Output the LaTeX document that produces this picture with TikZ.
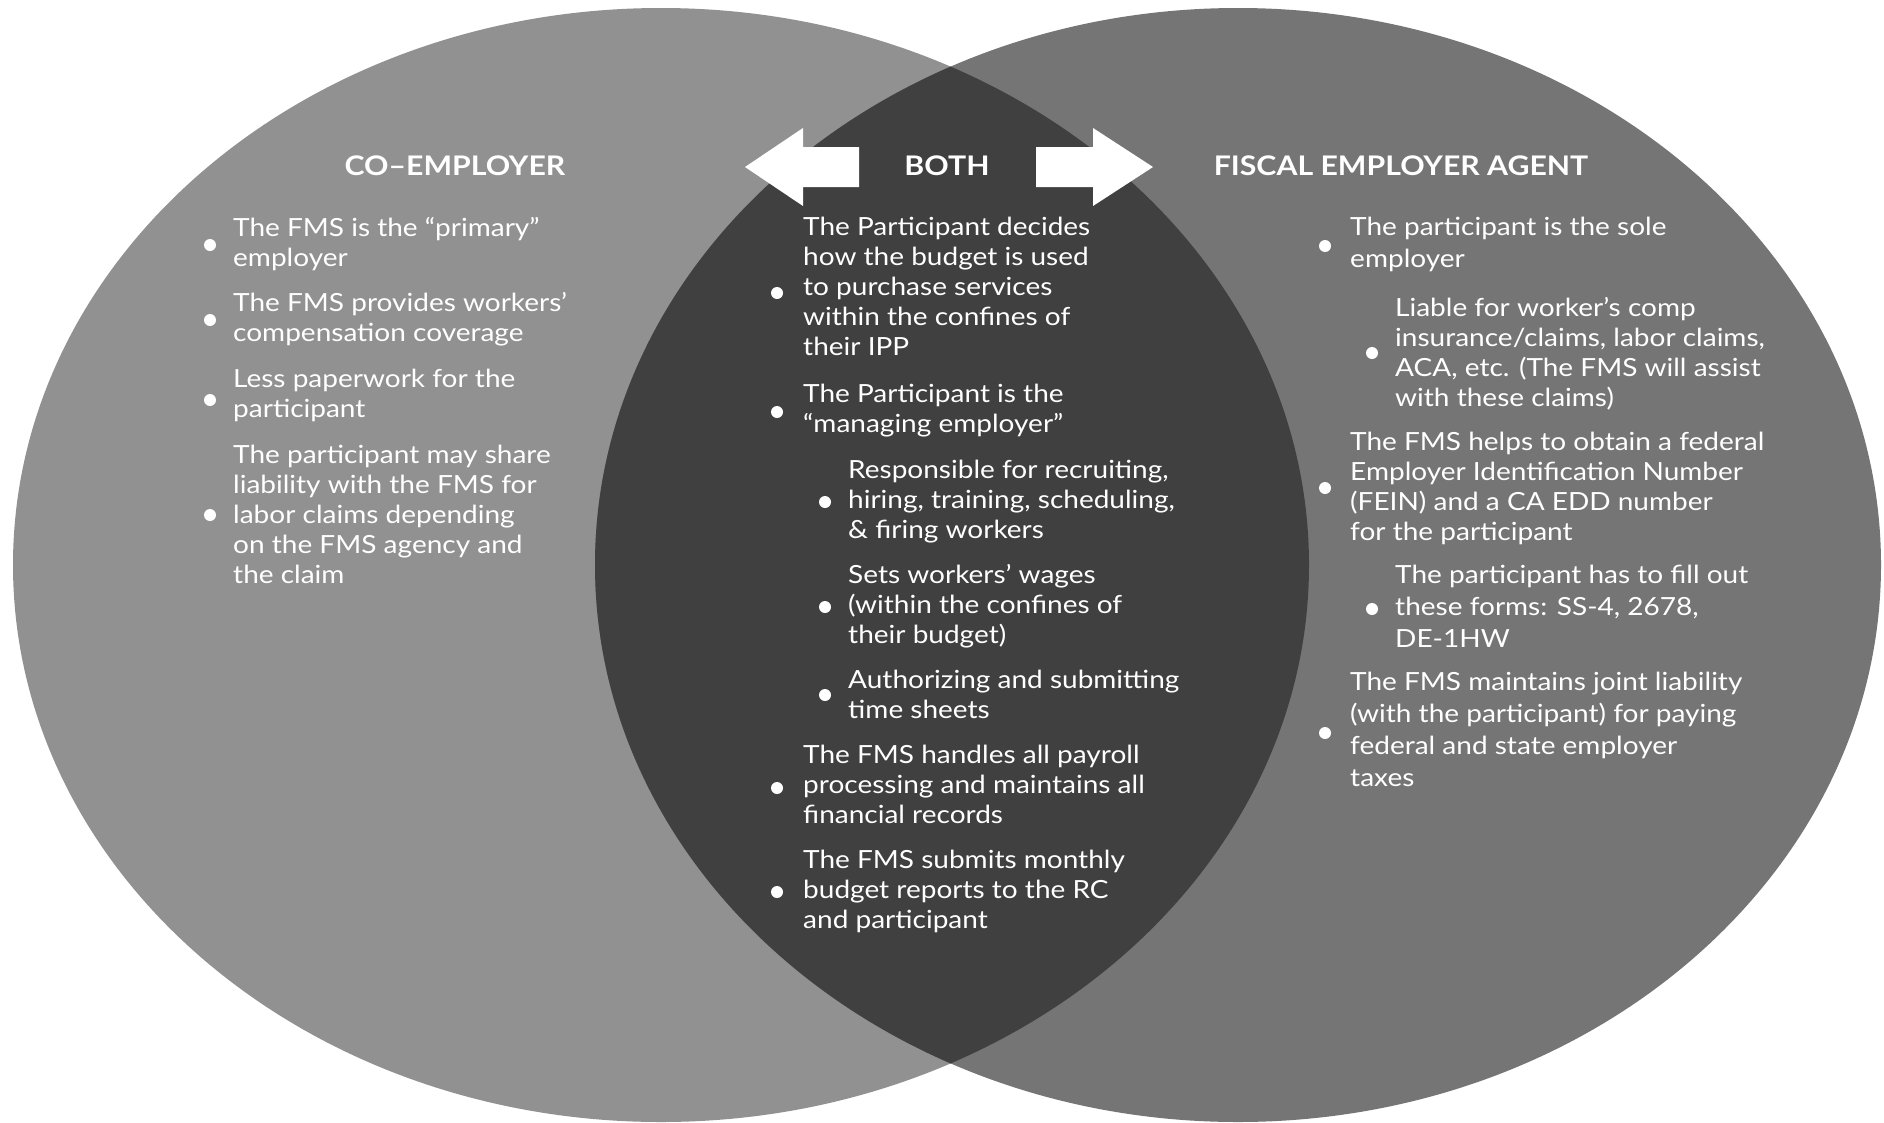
\documentclass[tikz,border=0pt]{standalone}
\usepackage{fontspec}
\setmainfont{Lato}[FakeStretch=1.12]
\definecolor{leftgray}{gray}{0.57}
\definecolor{rightgray}{gray}{0.46}
\definecolor{lensgray}{gray}{0.25}
\begin{document}
\begin{tikzpicture}[x=1pt,y=-1pt,
  txt/.style={anchor=north west, inner sep=0pt, align=left, text=white,
    font=\fontsize{25}{30}\selectfont, execute at begin node=\strut},
  txtw/.style={txt, font=\fontsize{25}{32}\selectfont},
  ttl/.style={anchor=center, inner sep=0pt, text=white,
    font=\bfseries\fontsize{27}{30}\selectfont},
  dot/.style={white}]
\useasboundingbox (0,0) rectangle (1884,1122);
\fill[white] (0,0) rectangle (1884,1122);
% circles
\fill[leftgray] (661,565) ellipse [x radius=648pt, y radius=557pt];
\fill[rightgray] (1238,565) ellipse [x radius=643pt, y radius=557pt];
\begin{scope}
  \clip (661,565) ellipse [x radius=648pt, y radius=557pt];
  \fill[lensgray] (1238,565) ellipse [x radius=643pt, y radius=557pt];
\end{scope}
% arrows
\fill[white] (745,167) -- (803,128) -- (803,147) -- (859,147) -- (859,187) -- (803,187) -- (803,206) -- cycle;
\fill[white] (1153,167) -- (1093,128) -- (1093,147) -- (1036,147) -- (1036,187) -- (1093,187) -- (1093,206) -- cycle;
% titles
\node[ttl] (tco) at (455,166) {CO–EMPLOYER};
\node[ttl] (tboth) at (947,166) {BOTH};
\node[ttl] (tfea) at (1401,166) {FISCAL EMPLOYER AGENT};
% left column
\node[txt] (l1) at (233,217) {The FMS is the “primary”\\employer};
\node[txt] (l2) at (233,292) {The FMS provides workers’\\compensation coverage};
\node[txt] (l3) at (233,369) {Less paperwork for the\\participant};
\node[txt] (l4) at (233,445) {The participant may share\\liability with the FMS for\\labor claims depending\\on the FMS agency and\\the claim};
\foreach \y in {245,320,400,515} \fill[dot] (210,\y) circle[radius=6pt];
% center column
\node[txt] (c1) at (803,217) {The Participant decides\\how the budget is used\\to purchase services\\within the confines of\\their IPP};
\node[txt] (c2) at (803,384) {The Participant is the\\“managing employer”};
\node[txt] (s1) at (848,460) {Responsible for recruiting,\\hiring, training, scheduling,\\\& firing workers};
\node[txt] (s2) at (848,564) {Sets workers’ wages\\(within the confines of\\their budget)};
\node[txt] (s3) at (848,670) {Authorizing and submitting\\time sheets};
\node[txt] (c3) at (803,745) {The FMS handles all payroll\\processing and maintains all\\financial records};
\node[txt] (c4) at (803,850) {The FMS submits monthly\\budget reports to the RC\\and participant};
\foreach \y in {293,412,788,892} \fill[dot] (777,\y) circle[radius=6pt];
\foreach \y in {502,607,695} \fill[dot] (825,\y) circle[radius=6pt];
% right column
\node[txtw] (r1) at (1350,217) {The participant is the sole\\employer};
\node[txt] (rs1) at (1395,297) {Liable for worker’s comp\\insurance/claims, labor claims,\\ACA, etc. (The FMS will assist\\with these claims)};
\node[txt] (r2) at (1350,432) {The FMS helps to obtain a federal\\Employer Identification Number\\(FEIN) and a CA EDD number\\for the participant};
\node[txtw] (rs2) at (1395,565) {The participant has to fill out\\these forms: SS-4, 2678,\\DE-1HW};
\node[txtw] (r3) at (1350,672) {The FMS maintains joint liability\\(with the participant) for paying\\federal and state employer\\taxes};
\foreach \y in {246,488,733} \fill[dot] (1325,\y) circle[radius=6pt];
\foreach \y in {353,609} \fill[dot] (1372,\y) circle[radius=6pt];
\end{tikzpicture}
\end{document}
